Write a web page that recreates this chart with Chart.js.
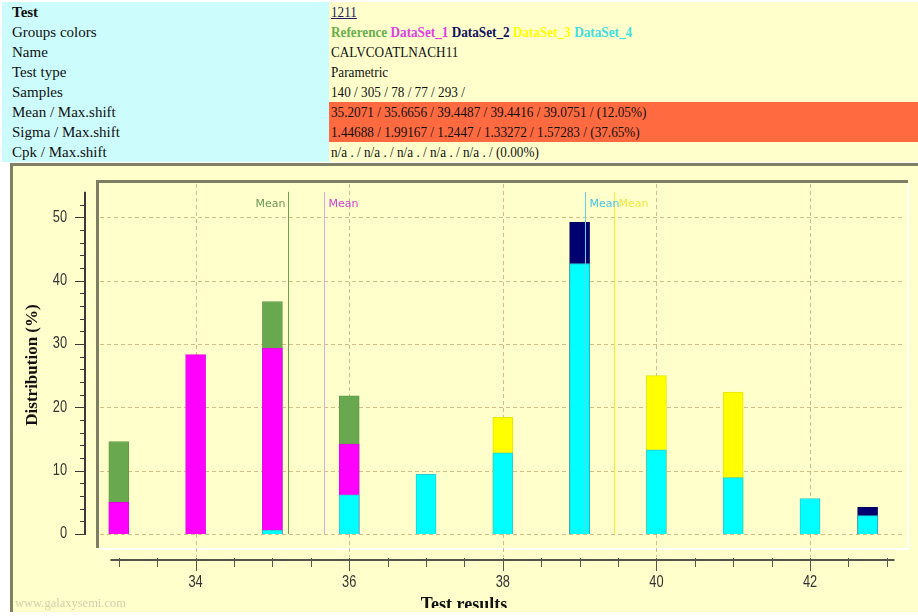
<!DOCTYPE html>
<html>
<head>
<meta charset="utf-8">
<title>Test 1211 - distribution</title>
<script src="https://cdn.jsdelivr.net/npm/chart.js@4.4.1/dist/chart.umd.min.js"></script>
<style>
  html, body { margin: 0; padding: 0; background: #ffffff; }
  body { width: 918px; height: 616px; position: relative; overflow: hidden;
         font-family: "Liberation Serif", "Times New Roman", serif; }
  #info { position: absolute; left: 2px; top: 2px; border-collapse: collapse;
          font-size: 15px; color: #111111; }
  #info td { height: 20px; padding: 0; line-height: 20px; white-space: nowrap; vertical-align: middle; }
  #info td.k { width: 317px; padding-left: 10px; background: #ccfcfc; }
  #info td.v { width: 587px; padding-left: 2px; background: #ffffcc; }
  #info td.hot { background: #ff6a40; }
  #info a { color: #1a1a5e; text-decoration: underline; }
  .sx { display: inline-block; transform: scaleX(0.88); transform-origin: 0 50%; }
  #panel { position: absolute; left: 10px; top: 163px; width: 908px; height: 449px;
           background: #ffffcc; border-top: 3px solid #808066; border-left: 3px solid #808066;
           box-sizing: border-box; }
  #chart { position: absolute; left: 0; top: 163px; }
</style>
</head>
<body>
<table id="info"></table>
<div id="panel"></div>
<canvas id="chart" width="918" height="453"></canvas>

<script>
// ---- histogram bins (bin centre, test result units) ----
const binCenters  = [33, 34, 35, 36, 37, 38, 39, 40, 41, 42, 42.75];

// ---- distribution per group, % of samples in each bin ----
const referencePct = [14.6, null, 36.7, 21.8, null, null, null, null, null, null, null];
const dataSet1Pct  = [5.0, 28.3, 29.3, 14.2, null, null, null, null, null, null, null];
const dataSet2Pct  = [null, null, null, null, null, null, 49.2, null, null, null, 4.2];
const dataSet3Pct  = [null, null, null, null, null, 18.4, null, 25.0, 22.4, null, null];
const dataSet4Pct  = [null, null, 0.6, 6.2, 9.4, 12.8, 42.7, 13.3, 8.9, 5.6, 2.9];

// ---- test summary ----
const testNumber = '1211';
const testName   = 'CALVCOATLNACH11';
const testType   = 'Parametric';
const groupNames = ['Reference', 'DataSet_1', 'DataSet_2', 'DataSet_3', 'DataSet_4'];
const samples    = [140, 305, 78, 77, 293];
const means      = [35.2071, 35.6656, 39.4487, 39.4416, 39.0751];
const meanShift  = '12.05%';
const sigmas     = [1.44688, 1.99167, 1.2447, 1.33272, 1.57283];
const sigmaShift = '37.65%';
const cpks       = ['n/a .', 'n/a .', 'n/a .', 'n/a .', 'n/a .'];
const cpkShift   = '0.00%';

// ---- axis ticks ----
const xLabelTicks = [34, 36, 38, 40, 42];
const yLabelTicks = [0, 10, 20, 30, 40, 50];

// ---- styling ----
const barFill      = ['#6aa84f', '#ff00ff', '#000070', '#ffff00', '#00ffff'];
const barEdge      = ['#5e9a46', '#e800e8', '#000060', '#e6e600', '#2ccccc'];
const groupText    = ['#6aae4c', '#e23ee2', '#10105e', '#ffff00', '#3fe0e0'];
const meanLine     = ['#6f9f4f', '#e6a6e6', '#000070', '#f2ee30', '#5ed6e8'];
const meanText     = ['#6c9a55', '#d040d0', '#000070', '#eeea40', '#44c6e2'];
const meanSide     = ['left', 'right', 'right', 'right', 'right'];

// ---- summary table ----
const rows = [
  ['<b>Test</b>', `<a>${testNumber}</a>`, false],
  ['Groups colors', groupNames.map((g, i) => `<b style="color:${groupText[i]}">${g}</b>`).join(' '), false],
  ['Name', testName, false],
  ['Test type', testType, false],
  ['Samples', samples.join(' / ') + ' /', false],
  ['Mean / Max.shift', means.join(' / ') + ` / (${meanShift})`, true],
  ['Sigma / Max.shift', sigmas.join(' / ') + ` / (${sigmaShift})`, true],
  ['Cpk / Max.shift', cpks.join(' / ') + ` / (${cpkShift})`, false]
];
document.getElementById('info').innerHTML = rows.map(([k, v, hot]) =>
  `<tr><td class="k">${k}</td><td class="v${hot ? ' hot' : ''}"><span class="sx">${v}</span></td></tr>`
).join('');

// ---- chart ----
const toPoints = vals => binCenters.map((x, i) => ({ x, y: vals[i] })).filter(p => p.y !== null);
const yAxisTop = 54;
const xAxisSpan = [32.89, 43.1];

function tickText(ctx, txt, x, y, align) {
  ctx.save();
  ctx.translate(x, y);
  ctx.scale(0.8, 1);
  ctx.textAlign = align;
  ctx.fillText(txt, 0, 0);
  ctx.restore();
}

const histDecor = {
  id: 'histDecor',
  beforeDatasetsDraw(chart) {
    const { ctx, chartArea: a, scales: { x, y } } = chart;
    ctx.save();
    // inset plot frame
    ctx.lineWidth = 2;
    ctx.strokeStyle = '#ffffff';
    ctx.beginPath();
    ctx.moveTo(a.left, a.bottom + 2);
    ctx.lineTo(a.right + 1, a.bottom + 2);
    ctx.lineTo(a.right + 1, a.top);
    ctx.stroke();
    ctx.lineWidth = 3;
    ctx.strokeStyle = '#7e7e64';
    ctx.beginPath();
    ctx.moveTo(a.left - 1.5, a.bottom + 1);
    ctx.lineTo(a.left - 1.5, a.top - 1.5);
    ctx.lineTo(a.right + 1, a.top - 1.5);
    ctx.stroke();
    // dashed grid
    ctx.lineWidth = 1;
    ctx.setLineDash([4, 3]);
    ctx.strokeStyle = 'rgba(196,166,110,0.75)';
    ctx.beginPath();
    yLabelTicks.forEach(v => {
      const py = Math.round(y.getPixelForValue(v)) + 0.5;
      ctx.moveTo(a.left + 1, py); ctx.lineTo(a.right - 2, py);
    });
    xLabelTicks.forEach(v => {
      const px = Math.round(x.getPixelForValue(v)) + 0.5;
      ctx.moveTo(px, a.top + 1); ctx.lineTo(px, a.bottom + 10);
    });
    ctx.stroke();
    ctx.restore();
  },
  afterDatasetsDraw(chart) {
    const { ctx, scales: { x, y } } = chart;
    const top = y.getPixelForValue(yAxisTop);
    const base = y.getPixelForValue(0);
    ctx.save();
    ctx.font = '11px "DejaVu Sans", sans-serif';
    ctx.textBaseline = 'alphabetic';
    means.forEach((m, i) => {
      const pm = x.getPixelForValue(m);
      // a marker sitting under a later one is not drawn
      if (means.some((n, j) => j > i && Math.abs(x.getPixelForValue(n) - pm) < 1.5)) return;
      const px = Math.round(pm) + 0.5;
      ctx.strokeStyle = meanLine[i];
      ctx.lineWidth = 1;
      ctx.beginPath();
      ctx.moveTo(px, top); ctx.lineTo(px, base);
      ctx.stroke();
      ctx.fillStyle = meanText[i];
      if (meanSide[i] === 'left') { ctx.textAlign = 'right'; ctx.fillText('Mean', px - 3, top + 15); }
      else { ctx.textAlign = 'left'; ctx.fillText('Mean', px + 4, top + 15); }
    });
    ctx.restore();
  },
  afterDraw(chart) {
    const { ctx, chartArea: a, scales: { x, y }, width } = chart;
    ctx.save();
    // y axis
    const axX = a.left - 14;
    ctx.strokeStyle = '#3a3a3a';
    ctx.lineWidth = 2;
    ctx.beginPath();
    ctx.moveTo(axX, y.getPixelForValue(0) + 1);
    ctx.lineTo(axX, y.getPixelForValue(yAxisTop));
    ctx.stroke();
    ctx.lineWidth = 1;
    ctx.beginPath();
    for (let v = 0; v <= 52; v += 2) {
      const py = Math.round(y.getPixelForValue(v)) + 0.5;
      const len = v % 10 === 0 ? 10 : 5;
      ctx.moveTo(axX - len, py); ctx.lineTo(axX, py);
    }
    ctx.stroke();
    ctx.fillStyle = '#333333';
    ctx.font = '16px "Liberation Sans", Arial, sans-serif';
    ctx.textBaseline = 'middle';
    yLabelTicks.forEach(v => tickText(ctx, String(v), axX - 18, y.getPixelForValue(v), 'right'));

    // x axis
    const axY = a.bottom + 13;
    ctx.strokeStyle = '#55554a';
    ctx.lineWidth = 2;
    ctx.beginPath();
    ctx.moveTo(x.getPixelForValue(xAxisSpan[0]), axY);
    ctx.lineTo(x.getPixelForValue(xAxisSpan[1]), axY);
    ctx.stroke();
    ctx.lineWidth = 1;
    ctx.beginPath();
    for (let v = 33; v <= 43; v += 0.5) {
      const px = Math.round(x.getPixelForValue(v)) + 0.5;
      const len = xLabelTicks.includes(v) ? 11 : 7;
      ctx.moveTo(px, axY - 2); ctx.lineTo(px, axY + len);
    }
    ctx.stroke();
    xLabelTicks.forEach(v => tickText(ctx, String(v), x.getPixelForValue(v), axY + 23, 'center'));

    // axis titles
    ctx.fillStyle = '#111111';
    ctx.font = 'bold 17px "Liberation Serif", serif';
    ctx.save();
    ctx.translate(33, (a.top + a.bottom) / 2);
    ctx.rotate(-Math.PI / 2);
    ctx.textAlign = 'center';
    ctx.fillText('Distribution (%)', 0, 0);
    ctx.restore();

    ctx.save();
    ctx.beginPath();
    ctx.rect(0, 0, width, 445);
    ctx.clip();
    ctx.font = 'bold 18px "Liberation Serif", serif';
    ctx.textAlign = 'center';
    ctx.textBaseline = 'alphabetic';
    ctx.fillText('Test results', 464, 447);
    ctx.restore();

    // site mark
    ctx.font = '12.5px "Liberation Serif", serif';
    ctx.fillStyle = 'rgba(150,150,130,0.45)';
    ctx.textAlign = 'left';
    ctx.textBaseline = 'alphabetic';
    ctx.fillText('www.galaxysemi.com', 15, 444);
    ctx.restore();
  }
};

const series = [
  { name: groupNames[4], vals: dataSet4Pct, c: 4 },
  { name: groupNames[1], vals: dataSet1Pct, c: 1 },
  { name: groupNames[0], vals: referencePct, c: 0 },
  { name: groupNames[2], vals: dataSet2Pct, c: 2 },
  { name: groupNames[3], vals: dataSet3Pct, c: 3 }
];

new Chart(document.getElementById('chart'), {
  type: 'bar',
  data: {
    datasets: series.map(s => ({
      label: s.name,
      data: toPoints(s.vals),
      backgroundColor: barFill[s.c],
      borderColor: barEdge[s.c],
      borderWidth: 1,
      borderSkipped: 'bottom',
      barThickness: 20,
      grouped: false
    }))
  },
  options: {
    responsive: false,
    animation: false,
    events: [],
    layout: { padding: { left: 99, right: 11, top: 20, bottom: 69 } },
    plugins: { legend: { display: false }, tooltip: { enabled: false } },
    scales: {
      x: { type: 'linear', display: false, offset: false, bounds: 'data', min: 32.742, max: 43.263 },
      y: { type: 'linear', display: false, bounds: 'data', min: -2.05, max: 55.4 }
    }
  },
  plugins: [histDecor]
});
</script>
</body>
</html>
